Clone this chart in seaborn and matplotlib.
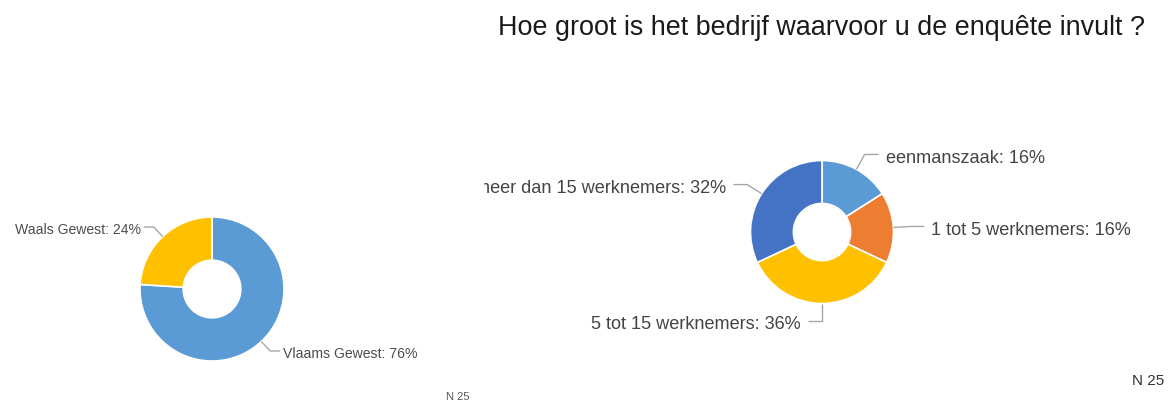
import numpy as np
import matplotlib
matplotlib.use("Agg")
import matplotlib.pyplot as plt
import seaborn as sns

# ---- data ----
region_labels = ["Vlaams Gewest", "Waals Gewest"]
region_values = [76, 24]
size_labels = ["eenmanszaak", "1 tot 5 werknemers", "5 tot 15 werknemers", "meer dan 15 werknemers"]
size_values = [16, 16, 36, 32]
title_text = "Hoe groot is het bedrijf waarvoor u de enquête invult ?"
n_text = "N 25"

# ---- style ----
sns.set_theme(style="white")
plt.rcParams["font.family"] = ["Liberation Sans", "DejaVu Sans"]
region_colors = ["#5B9BD5", "#FFC000"]
size_colors = ["#5B9BD5", "#ED7D31", "#FFC000", "#4472C4"]

W, H = 1175, 401
fig = plt.figure(figsize=(W / 100, H / 100), dpi=100)
fig.patch.set_facecolor("white")


def make_axes(x0, x1):
    ax = fig.add_axes([x0 / W, 0, (x1 - x0) / W, 1])
    ax.set_xlim(x0, x1)
    ax.set_ylim(0, H)
    ax.set_axis_off()
    return ax


def donut(ax, values, labels, colors, center, radius, d, hlen, gap, fs, tcolor, dy, clip=False):
    wedges, _ = ax.pie(values, colors=colors, startangle=90, counterclock=False,
                       radius=radius, center=center,
                       wedgeprops=dict(width=radius * 0.6, edgecolor="white", linewidth=1.2))
    for w, lab, v in zip(wedges, labels, values):
        ang = np.deg2rad((w.theta1 + w.theta2) / 2)
        c, s = np.cos(ang), np.sin(ang)
        side = 1 if c > 0.01 else -1
        p0 = (center[0] + radius * c, center[1] + radius * s)
        p1 = (center[0] + (radius + d) * c, center[1] + (radius + d) * s)
        p2 = (p1[0] + side * hlen, p1[1])
        ax.plot([p0[0], p1[0], p2[0]], [p0[1], p1[1], p2[1]], color="#a6a6a6", lw=1.0,
                solid_capstyle="butt", zorder=1)
        ax.text(p2[0] + side * gap, p2[1] - dy, f"{lab}: {v}%", ha="left" if side > 0 else "right",
                va="center", fontsize=fs, color=tcolor, clip_on=clip)
    return wedges


# left panel
axL = make_axes(0, 480)
donut(axL, region_values, region_labels, region_colors, center=(212, H - 289), radius=72,
      d=13, hlen=10, gap=3, fs=10.1, tcolor="#4d4d4d", dy=3)
axL.set_xlim(0, 480)
axL.set_ylim(0, H)
axL.set_aspect("auto")
axL.text(458, H - 397, n_text, ha="center", va="center", fontsize=8, color="#555555")

# right panel
axR = make_axes(484, W)
donut(axR, size_values, size_labels, size_colors, center=(822, H - 232), radius=71.5,
      d=17, hlen=14, gap=7, fs=13.1, tcolor="#444444", dy=4, clip=True)
axR.set_xlim(484, W)
axR.set_ylim(0, H)
axR.set_aspect("auto")
axR.text(1148, H - 381, n_text, ha="center", va="center", fontsize=11, color="#333333")

fig.text(821 / W, 1 - 28 / H, title_text, ha="center", va="center", fontsize=19.4, color="#1a1a1a")

fig.savefig("out.png", dpi=100, facecolor="white")
